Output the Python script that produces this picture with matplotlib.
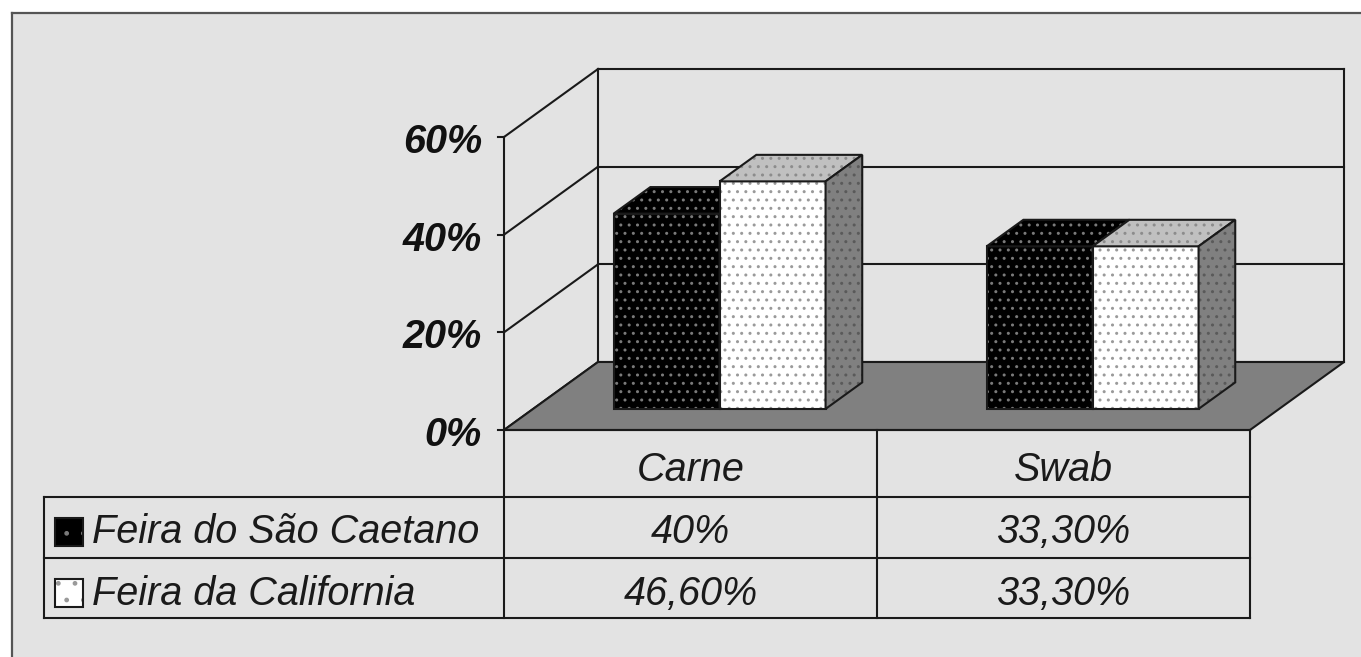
import matplotlib
matplotlib.use("Agg")
import matplotlib.pyplot as plt
from matplotlib.patches import Polygon, Rectangle
from matplotlib.lines import Line2D

categories = ["Carne", "Swab"]
series_names = ["Feira do São Caetano", "Feira da California"]
sao_caetano = [40.0, 33.3]
california = [46.6, 33.3]
sao_caetano_labels = ["40%", "33,30%"]
california_labels = ["46,60%", "33,30%"]
y_ticks = [0, 20, 40, 60]
y_tick_labels = ["0%", "20%", "40%", "60%"]

FONT = "Liberation Sans"
BG = "#e3e3e3"
LINE = "#1a1a1a"
LW = 1.5

# figure is 1361x657 px; axis units: 1 category per 373 px, 1 % per 4.883 px
W_PX, H_PX = 1361, 657
X0_PX, Y0_PX = 504, 430
CAT_PX, PCT_PX = 373.0, 4.883

# depth of the 3D box (back wall offset) in data units
DX = 94 / CAT_PX
DZ = 68 / PCT_PX
BAR_D0, BAR_D1 = 0.31, 0.70
BAR_W = 0.284
Y_MAX = 60

fig = plt.figure(figsize=(W_PX / 100, H_PX / 100), dpi=100)
fig.patch.set_facecolor("white")

# grey panel with dark top/left rim
fig.add_artist(Rectangle((12 / W_PX, 0), 1, 644 / H_PX, transform=fig.transFigure,
                         facecolor=BG, edgecolor="none", zorder=0))
fig.add_artist(Line2D([12 / W_PX, 1], [644 / H_PX, 644 / H_PX], transform=fig.transFigure,
                      color="#555555", lw=1.6))
fig.add_artist(Line2D([12 / W_PX, 12 / W_PX], [0, 644 / H_PX], transform=fig.transFigure,
                      color="#555555", lw=1.6))

ax = fig.add_axes([0, 0, 1, 1])
ax.set_xlim(-X0_PX / CAT_PX, (W_PX - X0_PX) / CAT_PX)
ax.set_ylim(-(H_PX - Y0_PX) / PCT_PX, Y0_PX / PCT_PX)
ax.axis("off")
ax.patch.set_alpha(0)

n_cat = len(categories)
z = [1.0]  # painter's order counter


def next_z():
    z[0] += 0.01
    return z[0]


def proj(x, y, d):
    return (x + d * DX, y + d * DZ)


def face(points, fc, hatch_color=None, hatch=None):
    zo = next_z()
    ax.add_patch(Polygon(points, closed=True, facecolor=fc,
                         edgecolor=hatch_color if hatch else "none",
                         hatch=hatch, lw=0, zorder=zo))
    ax.add_patch(Polygon(points, closed=True, fill=False, edgecolor=LINE, lw=LW,
                         joinstyle="miter", zorder=zo + 0.001))


def line(xs, ys):
    ax.plot(xs, ys, color=LINE, lw=LW, solid_capstyle="projecting", zorder=next_z())


# walls and gridlines
for t in y_ticks:
    line([0, DX], [t, t + DZ])
    line([DX, n_cat + DX], [t + DZ, t + DZ])
line([0, 0], [0, Y_MAX])
line([DX, DX], [DZ, Y_MAX + DZ])
line([n_cat + DX, n_cat + DX], [DZ, Y_MAX + DZ])
for t, lab in zip(y_ticks, y_tick_labels):
    line([-6 / CAT_PX, 0], [t, t])
    ax.text(-22 / CAT_PX, t - 1.0, lab, ha="right", va="center", fontsize=28.5,
            family=FONT, style="italic", weight="bold", color="#111111")

# floor
face([proj(0, 0, 0), proj(n_cat, 0, 0), proj(n_cat, 0, 1), proj(0, 0, 1)], "#808080")

# bars
styles = [
    dict(front="#000000", top="#000000", side="#000000",
         dots=("#7a7a7a", "#7a7a7a", "#7a7a7a")),
    dict(front="#ffffff", top="#c0c0c0", side="#808080",
         dots=("#9a9a9a", "#8c8c8c", "#5a5a5a")),
]
for i in range(n_cat):
    for j, vals in enumerate([sao_caetano, california]):
        h = vals[i]
        st = styles[j]
        xl = i + 0.5 - BAR_W + j * BAR_W
        xr = xl + BAR_W
        face([proj(xl, 0, BAR_D0), proj(xr, 0, BAR_D0), proj(xr, h, BAR_D0), proj(xl, h, BAR_D0)],
             st["front"], st["dots"][0], "..")
        face([proj(xl, h, BAR_D0), proj(xr, h, BAR_D0), proj(xr, h, BAR_D1), proj(xl, h, BAR_D1)],
             st["top"], st["dots"][1], "..")
        face([proj(xr, 0, BAR_D0), proj(xr, 0, BAR_D1), proj(xr, h, BAR_D1), proj(xr, h, BAR_D0)],
             st["side"], st["dots"][2], "..")

# data table
rows_y = [0, -67 / PCT_PX, -128 / PCT_PX, -188 / PCT_PX]
leg_x = (44 - X0_PX) / CAT_PX
line([0, n_cat], [rows_y[0], rows_y[0]])
for y in rows_y[1:]:
    line([leg_x, n_cat], [y, y])
line([leg_x, leg_x], [rows_y[1], rows_y[3]])
for k in range(n_cat + 1):
    line([k, k], [rows_y[0], rows_y[3]])

txt = dict(fontsize=28.5, family=FONT, style="italic", color="#1a1a1a", va="center")
for i, cat in enumerate(categories):
    ax.text(i + 0.5, (rows_y[0] + rows_y[1]) / 2 - 1.4, cat, ha="center", **txt)
for r, labels in enumerate([sao_caetano_labels, california_labels]):
    yc = (rows_y[r + 1] + rows_y[r + 2]) / 2 - 1.0
    for i, lab in enumerate(labels):
        ax.text(i + 0.5, yc - (0.3 if r else 0), lab, ha="center", **txt)
    ax.text((92 - X0_PX) / CAT_PX, yc - (0.3 if r else 0), series_names[r], ha="left", **txt)
    st = styles[r]
    kx = (55 - X0_PX) / CAT_PX
    ks = 28 / PCT_PX
    ax.add_patch(Rectangle((kx, yc - ks / 2), 28 / CAT_PX, ks, facecolor=st["front"],
                           edgecolor=st["dots"][0], hatch=".", lw=0, zorder=5))
    ax.add_patch(Rectangle((kx, yc - ks / 2), 28 / CAT_PX, ks, fill=False,
                           edgecolor=LINE, lw=LW, zorder=5.1))

fig.savefig("out.png", dpi=100, facecolor=fig.get_facecolor())
